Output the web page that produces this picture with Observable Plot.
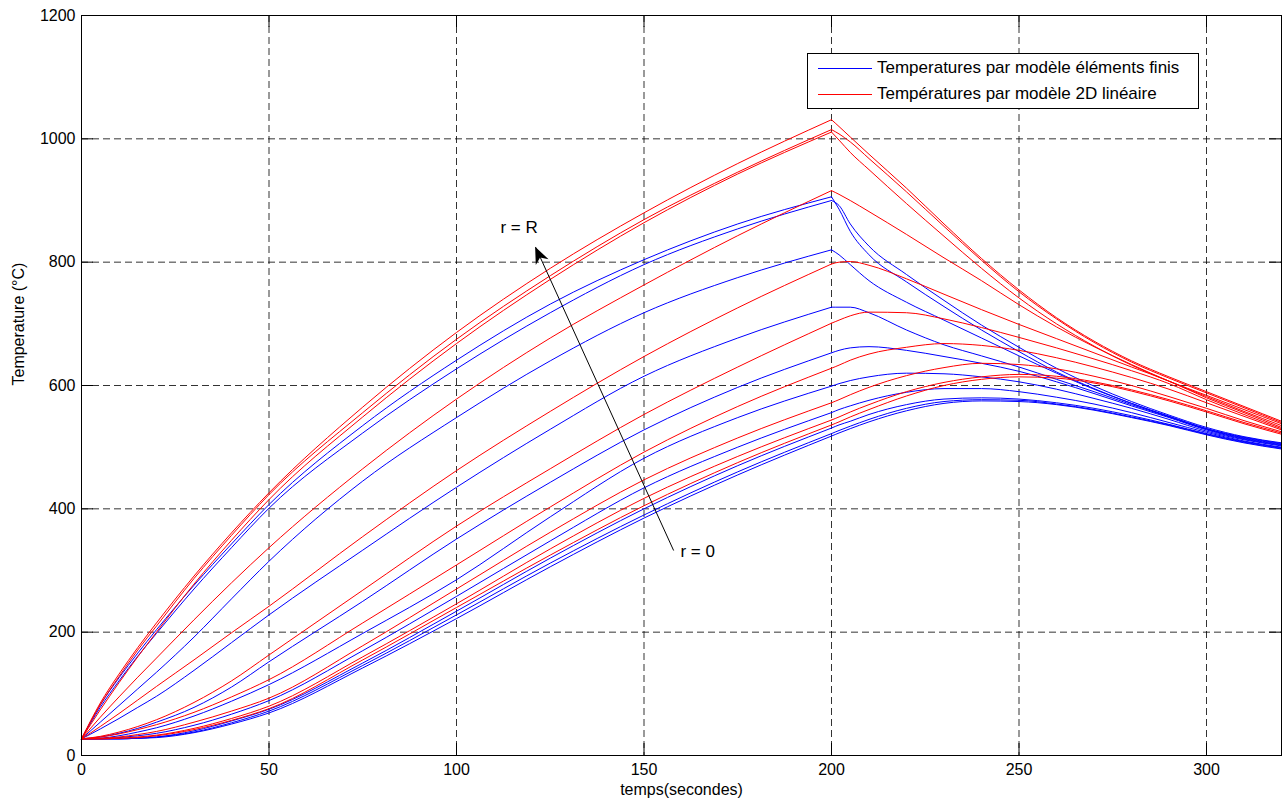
<!DOCTYPE html>
<html>
<head>
<meta charset="utf-8">
<script src="https://cdn.jsdelivr.net/npm/d3@7"></script>
<script src="https://cdn.jsdelivr.net/npm/@observablehq/plot@0.6"></script>
<style>
  body { margin: 0; background: #fff; }
  #wrap { position: relative; width: 1282px; height: 805px; font-family: "Liberation Sans", Arial, sans-serif; color: #000; }
  #legend { position: absolute; left: 807px; top: 53px; width: 392px; height: 56px; border: 1px solid #000; background: #fff; box-sizing: border-box; }
  .row { position: absolute; left: 0; height: 20px; width: 100%; }
  .sample { position: absolute; left: 10px; width: 54px; top: 10px; height: 0; border-top: 1px solid; }
  .lab { position: absolute; left: 69px; top: 0; line-height: 20px; font-size: 17px; white-space: nowrap; }
</style>
</head>
<body>
<div id="wrap"></div>
<script>
// ---- axis ticks ----
const xTicks = [0, 50, 100, 150, 200, 250, 300];
const yTicks = [0, 200, 400, 600, 800, 1000, 1200];

// ---- sample times ----
const heatTimes = [0, 5, 10, 15, 20, 30, 40, 50, 75, 100, 125, 150, 175, 200];
const coolTimes = [200, 202, 205, 210, 220, 230, 240, 250, 260, 270, 280, 290, 300, 310, 320];

// ---- finite element model (blue), heating phase, r = R ... r = 0 ----
const feHeat = [
  [27, 82, 126, 166, 204, 276, 343, 407, 535, 641, 732, 804, 862, 906],
  [27, 78, 121, 161, 198, 270, 337, 401, 523, 627, 718, 796, 854, 900],
  [27, 54, 81, 108, 135, 192, 254, 315, 445, 548, 640, 718, 775, 820],
  [27, 43, 60, 78, 96, 138, 183, 228, 333, 435, 529, 615, 677, 727],
  [27, 30, 36, 44, 54, 78, 111, 152, 250, 351, 443, 528, 597, 653],
  [27, 28, 32, 38, 45, 64, 88, 115, 198, 285, 387, 482, 548, 599],
  [27, 27, 29, 32, 36, 49, 67, 89, 170, 258, 348, 434, 500, 556],
  [27, 27, 27, 28, 30, 40, 56, 75, 150, 234, 320, 400, 470, 531],
  [27, 27, 27, 28, 30, 38, 53, 72, 146, 228, 312, 390, 460, 522],
  [27, 27, 27, 28, 29, 37, 51, 69, 142, 222, 306, 385, 455, 518]
];
// ---- finite element model (blue), cooling phase ----
const feCool = [
  [906, 886, 850, 812, 768, 728, 690, 655, 622, 595, 571, 550, 530, 516, 506],
  [900, 892, 862, 826, 780, 738, 698, 662, 628, 599, 574, 552, 532, 517, 507],
  [820, 812, 796, 770, 735, 706, 677, 648, 620, 594, 571, 550, 530, 515, 505],
  [727, 727, 727, 718, 690, 666, 648, 630, 610, 590, 569, 549, 529, 514, 504],
  [653, 657, 661, 663, 657, 647, 636, 623, 606, 587, 567, 548, 528, 513, 503],
  [599, 603, 608, 614, 620, 619, 614, 606, 594, 579, 563, 545, 526, 512, 502],
  [556, 561, 567, 576, 589, 595, 595, 590, 581, 570, 556, 540, 524, 510, 500],
  [531, 536, 542, 553, 569, 578, 580, 578, 572, 563, 551, 537, 522, 509, 499],
  [522, 527, 534, 545, 563, 574, 577, 576, 570, 561, 549, 536, 521, 508, 498],
  [518, 523, 530, 541, 559, 571, 575, 574, 569, 560, 548, 535, 520, 507, 497]
];

// ---- linear 2D model (red), heating phase ----
const linHeat = [
  [27, 85, 132, 175, 215, 291, 361, 426, 565, 686, 790, 880, 960, 1031],
  [27, 82, 128, 171, 210, 287, 357, 423, 556, 675, 778, 869, 946, 1015],
  [27, 74, 118, 160, 200, 278, 349, 415, 549, 668, 772, 864, 943, 1011],
  [27, 62, 95, 127, 158, 220, 280, 337, 465, 578, 677, 763, 843, 916],
  [27, 47, 68, 90, 112, 155, 199, 242, 355, 462, 558, 647, 726, 797],
  [27, 31, 38, 47, 58, 86, 121, 163, 268, 372, 465, 553, 630, 701],
  [27, 30, 35, 42, 50, 70, 95, 123, 215, 309, 403, 492, 566, 628],
  [27, 28, 30, 34, 39, 54, 72, 93, 178, 270, 362, 447, 515, 572],
  [27, 27, 28, 30, 33, 44, 60, 80, 160, 246, 335, 417, 485, 544],
  [27, 27, 28, 29, 32, 42, 57, 76, 155, 240, 325, 405, 475, 536]
];
// ---- linear 2D model (red), cooling phase ----
const linCool = [
  [1031, 1020, 1003, 975, 920, 862, 806, 755, 710, 672, 640, 614, 590, 566, 542],
  [1015, 1008, 995, 968, 914, 858, 803, 752, 708, 670, 638, 612, 588, 564, 540],
  [1011, 998, 978, 950, 895, 842, 790, 742, 700, 664, 633, 607, 584, 561, 538],
  [916, 910, 900, 882, 845, 807, 770, 731, 695, 663, 634, 607, 582, 558, 535],
  [797, 800, 801, 795, 773, 748, 723, 699, 676, 653, 630, 607, 580, 556, 532],
  [701, 706, 713, 719, 718, 708, 694, 678, 661, 643, 624, 603, 577, 553, 530],
  [628, 633, 641, 651, 662, 668, 665, 657, 645, 630, 613, 594, 572, 550, 528],
  [572, 577, 585, 597, 616, 629, 636, 634, 627, 615, 600, 582, 563, 543, 525],
  [544, 549, 557, 569, 590, 605, 614, 618, 615, 606, 593, 577, 559, 540, 523],
  [536, 541, 549, 561, 583, 600, 610, 614, 612, 604, 591, 575, 557, 538, 521]
];

// ---- annotations ----
const arrowSeg = [{t1: 157.9, T1: 332.4, t2: 121.1, T2: 824.3}];
const annotations = [
  {text: "r = R", t: 111.7, T: 856.7},
  {text: "r = 0", t: 159.7, T: 330.8}
];
const legendItems = [
  {label: "Temperatures par modèle éléments finis", color: "#0000ff"},
  {label: "Températures par modèle 2D linéaire", color: "#ff0000"}
];

function build(heat, cool, model) {
  const rows = [];
  heat.forEach((vals, i) => vals.forEach((v, j) => rows.push({curve: model + i + "h", t: heatTimes[j], T: v})));
  cool.forEach((vals, i) => vals.forEach((v, j) => rows.push({curve: model + i + "c", t: coolTimes[j], T: v})));
  return rows;
}
const feRows = build(feHeat, feCool, "fe");
const linRows = build(linHeat, linCool, "lin");

const gridXVals = xTicks.filter(v => v > 0);
const gridYVals = yTicks.filter(v => v > 0 && v < 1200);
const gridStyle = {stroke: "#000", strokeOpacity: 0.8, strokeWidth: 1, strokeDasharray: "7,4"};

const plot = Plot.plot({
  width: 1282,
  height: 805,
  marginLeft: 81,
  marginRight: 1,
  marginTop: 15,
  marginBottom: 50,
  style: {fontFamily: "'Liberation Sans', Arial, sans-serif", fontSize: "16px", background: "#fff", color: "#000", overflow: "visible"},
  x: {domain: [0, 320], ticks: xTicks, tickFormat: d => String(d), tickSize: 0, tickPadding: 8, label: null},
  y: {domain: [0, 1200], ticks: yTicks, tickFormat: d => String(d), tickSize: 0, tickPadding: 6, label: null},
  marks: [
    Plot.ruleX(gridXVals, {x: d => d, ...gridStyle}),
    Plot.ruleY(gridYVals, {y: d => d, ...gridStyle}),
    Plot.line(feRows, {x: "t", y: "T", z: "curve", stroke: "#0000ff", strokeWidth: 1, curve: "monotone-x"}),
    Plot.line(linRows, {x: "t", y: "T", z: "curve", stroke: "#ff0000", strokeWidth: 1, curve: "monotone-x"}),
    // inward ticks on the four sides
    Plot.ruleX(xTicks, {x: d => d, y1: 0, y2: 0, insetBottom: 12, stroke: "#000"}),
    Plot.ruleX(xTicks, {x: d => d, y1: 1200, y2: 1200, insetTop: 12, stroke: "#000"}),
    Plot.ruleY(yTicks, {y: d => d, x1: 0, x2: 0, insetLeft: 12, stroke: "#000"}),
    Plot.ruleY(yTicks, {y: d => d, x1: 320, x2: 320, insetRight: 12, stroke: "#000"}),
    Plot.frame({stroke: "#000"}),
    Plot.link(arrowSeg, {x1: "t1", y1: "T1", x2: "t2", y2: "T2", stroke: "#000", strokeWidth: 1}),
    Plot.text(annotations, {x: "t", y: "T", text: "text", textAnchor: "start", fontSize: 17}),
    Plot.text(["temps(secondes)"], {text: d => d, frameAnchor: "bottom", dy: 39, fontSize: 16}),
    Plot.text(["Temperature (°C)"], {text: d => d, frameAnchor: "left", dx: -63, rotate: -90, fontSize: 16})
  ]
});

const wrap = document.getElementById("wrap");
wrap.appendChild(plot);

// filled arrow head at the tip of the annotation arrow, positioned with the plot's scales
const sx = plot.scale("x"), sy = plot.scale("y");
const a = arrowSeg[0];
const tx = sx.apply(a.t2), ty = sy.apply(a.T2);
const bx = sx.apply(a.t1), by = sy.apply(a.T1);
const len = Math.hypot(tx - bx, ty - by);
const ux = (tx - bx) / len, uy = (ty - by) / len;
const px = -uy, py = ux;
const L = 17, Wd = 7, N = 12;
const pts = [
  [tx, ty],
  [tx - ux * L + px * Wd, ty - uy * L + py * Wd],
  [tx - ux * N, ty - uy * N],
  [tx - ux * L - px * Wd, ty - uy * L - py * Wd]
];
d3.select(plot).append("path")
  .attr("d", "M" + pts.map(p => p.join(",")).join("L") + "Z")
  .attr("fill", "#000");

// legend box inside the axes (top right)
const leg = d3.select(wrap).append("div").attr("id", "legend");
legendItems.forEach((item, i) => {
  const row = leg.append("div").attr("class", "row").style("top", (4 + i * 25.6) + "px");
  row.append("div").attr("class", "sample").style("border-top-color", item.color);
  row.append("div").attr("class", "lab").text(item.label);
});
</script>
</body>
</html>
